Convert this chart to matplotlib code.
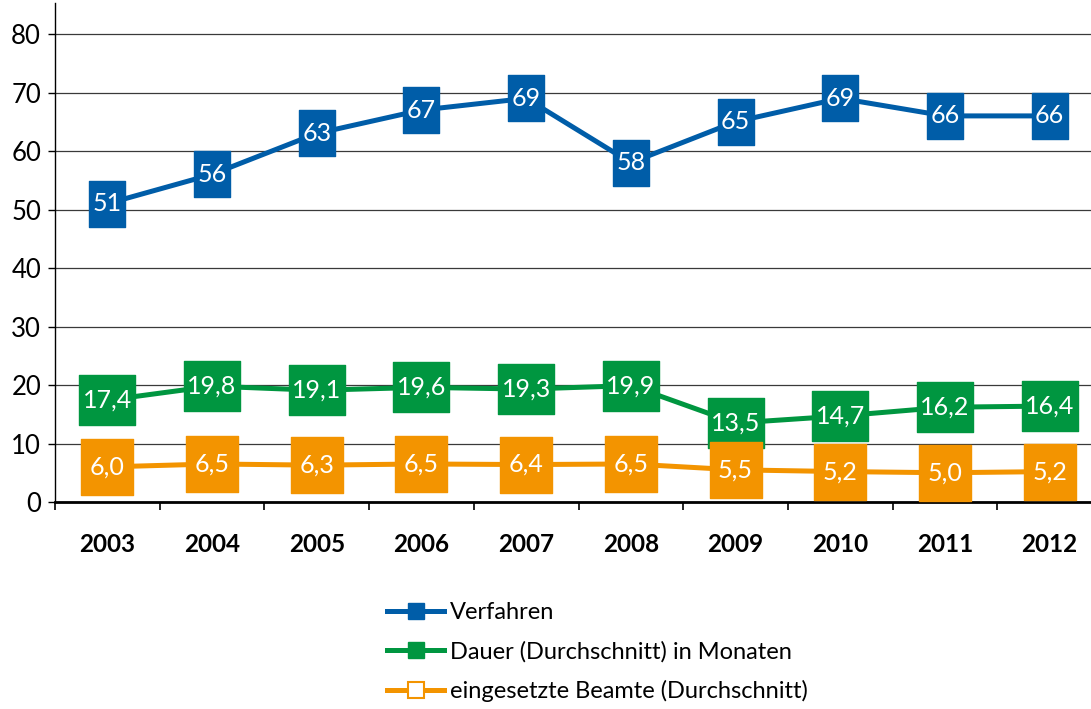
import matplotlib
matplotlib.use("Agg")
import matplotlib.pyplot as plt
from matplotlib.path import Path
from matplotlib.lines import Line2D
import numpy as np

years = ["2003", "2004", "2005", "2006", "2007", "2008", "2009", "2010", "2011", "2012"]
verfahren = [51, 56, 63, 67, 69, 58, 65, 69, 66, 66]
dauer = [17.4, 19.8, 19.1, 19.6, 19.3, 19.9, 13.5, 14.7, 16.2, 16.4]
beamte = [6.0, 6.5, 6.3, 6.5, 6.4, 6.5, 5.5, 5.2, 5.0, 5.2]
series_names = ["Verfahren", "Dauer (Durchschnitt) in Monaten", "eingesetzte Beamte (Durchschnitt)"]

BLUE = "#005DA8"
GREEN = "#009640"
ORANGE = "#F39400"

plt.rcParams['font.family'] = ['Lato', 'DejaVu Sans']

def rect_marker(w, h):
    return Path([(-w, -h), (w, -h), (w, h), (-w, h), (-w, -h)],
                [Path.MOVETO, Path.LINETO, Path.LINETO, Path.LINETO, Path.CLOSEPOLY])

fig = plt.figure(figsize=(10.91, 7.09), dpi=100)
ax = fig.add_axes([55/1091, 1-502/709, 1047/1091, 499/709])

x = np.arange(len(years))
specs = [
    (verfahren, BLUE, rect_marker(0.8, 1.0), 33, lambda v: f"{v:d}"),
    (dauer, GREEN, rect_marker(1.0, 0.87), 41, lambda v: f"{v:.1f}".replace('.', ',')),
    (beamte, ORANGE, rect_marker(0.93, 1.0), 41, lambda v: f"{v:.1f}".replace('.', ',')),
]
for vals, col, mk, ms, fmt in specs:
    ax.plot(x, vals, color=col, lw=3.6, marker=mk, markersize=ms,
            markerfacecolor=col, markeredgecolor=col, zorder=3, clip_on=False)
    for xi, v in zip(x, vals):
        ax.text(xi, v, fmt(v), color="white", fontsize=18, ha="center", va="center",
                zorder=5)

ax.set_xlim(-0.5, 9.5)
ax.set_ylim(0, 85.3)
ax.set_yticks(np.arange(0, 81, 10))
ax.set_xticks(x)
ax.set_xticklabels(years, fontsize=17.5, fontweight="bold")
ax.set_xticks(np.arange(-0.5, 10, 1), minor=True)
ax.tick_params(axis='x', which='major', length=0, pad=22)
ax.tick_params(axis='x', which='minor', length=6, width=1.2, direction='out', color='black')
ax.tick_params(axis='y', which='major', length=5, width=1, labelsize=18.5, pad=5)
ax.yaxis.grid(True, color="#3a3a3a", lw=0.9)
ax.set_axisbelow(True)
for s in ["top", "right"]:
    ax.spines[s].set_visible(False)
ax.spines["left"].set_linewidth(1.0)
ax.spines["bottom"].set_linewidth(2.0)

handles = [
    Line2D([], [], color=BLUE, lw=3.6, marker='s', markersize=11, markerfacecolor=BLUE, markeredgecolor=BLUE),
    Line2D([], [], color=GREEN, lw=3.6, marker='s', markersize=11, markerfacecolor=GREEN, markeredgecolor=GREEN),
    Line2D([], [], color=ORANGE, lw=3.6, marker='s', markersize=11, markerfacecolor='white', markeredgecolor=ORANGE, markeredgewidth=1.5),
]
fig.legend(handles, series_names, loc="upper left", bbox_to_anchor=(378/1091, 1-593/709),
           frameon=False, fontsize=17, handlelength=2.4, handletextpad=0.25, labelspacing=0.74,
           borderaxespad=0)

fig.savefig("out.png", dpi=100)
